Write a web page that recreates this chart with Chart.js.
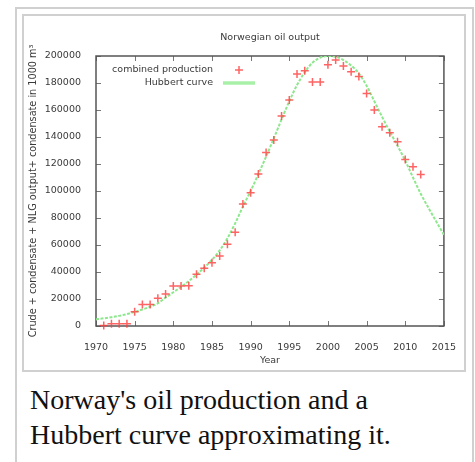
<!DOCTYPE html>
<html>
<head>
<meta charset="utf-8">
<script src="https://cdn.jsdelivr.net/npm/chart.js@4/dist/chart.umd.min.js"></script>
<style>
    body { margin: 0; background: #fff; }
    .thumb {
        position: absolute; left: 15px; top: 7px; width: 459px; height: 470px;
        border: 2px solid #d0d0d0; box-sizing: border-box;
    }
    .frame {
        position: absolute; left: 22px; top: 14px; width: 444px; height: 358px;
        border: 2px solid #d0d0d0; box-sizing: border-box;
    }
    #oilChart { position: absolute; left: 24px; top: 16px; }
    .caption {
        position: absolute; left: 30px; top: 382px; width: 430px;
        font-family: "Liberation Serif", serif; font-size: 28px; line-height: 35px; color: #111;
    }
</style>
</head>
<body>
<div class="thumb"></div>
<div class="frame"></div>
<canvas id="oilChart" width="440" height="354"></canvas>
<div class="caption">Norway's oil production and a Hubbert curve approximating it.</div>
<script>
const chartTitle = 'Norwegian oil output';
const xTitle = 'Year';
const yTitle = 'Crude + condensate + NLG output+ condensate in 1000 m³';

const prodYears = [1971, 1972, 1973, 1974, 1975, 1976, 1977, 1978, 1979, 1980,
    1981, 1982, 1983, 1984, 1985, 1986, 1987, 1988, 1989, 1990,
    1991, 1992, 1993, 1994, 1995, 1996, 1997, 1998, 1999, 2000,
    2001, 2002, 2003, 2004, 2005, 2006, 2007, 2008, 2009, 2010,
    2011, 2012];
const prodValues = [300, 1600, 1600, 1700, 10600, 16000, 16000, 20500, 23700, 29600,
    29600, 29900, 38300, 42700, 46900, 51800, 60500, 69400, 90400, 98700,
    112600, 128600, 137800, 155500, 167400, 186700, 189100, 180700, 180700, 193500,
    197000, 192600, 188400, 184900, 172200, 160000, 147600, 143200, 136500, 123400,
    118000, 112300];

const curveYears = [1970, 1971, 1972, 1973, 1974, 1975, 1976, 1977, 1978, 1979,
    1980, 1981, 1982, 1983, 1984, 1985, 1986, 1987, 1988, 1989,
    1990, 1991, 1992, 1993, 1994, 1995, 1996, 1997, 1998, 1999,
    2000, 2001, 2002, 2003, 2004, 2005, 2006, 2007, 2008, 2009,
    2010, 2011, 2012, 2013, 2014, 2015];
const curveValues = [5000, 5700, 6500, 7500, 8800, 10400, 12200, 14300, 16800, 21000,
    25000, 29000, 33300, 38000, 43200, 49000, 56000, 65000, 76000, 88500,
    100000, 112500, 125500, 139000, 153000, 166500, 178500, 188000, 195000, 198800,
    200000, 199500, 197000, 193000, 187000, 178000, 166500, 155000, 144000, 133500,
    122500, 110000, 98000, 87500, 77500, 67500];

const xTicks = [1970, 1975, 1980, 1985, 1990, 1995, 2000, 2005, 2010, 2015];
const yTicks = [0, 20000, 40000, 60000, 80000, 100000, 120000, 140000, 160000, 180000, 200000];

const textColor = '#3a3a3a';
const font = { family: 'DejaVu Sans', size: 9.5 };
const pointColor = 'rgba(255, 60, 60, 0.8)';
const curveColor = '#8de88d';

// gnuplot-like border with inward ticks on all four sides
const framePlugin = {
    id: 'frame',
    beforeDatasetsDraw(chart) {
        const { ctx, chartArea: a, scales } = chart;
        ctx.save();
        ctx.strokeStyle = '#777';
        ctx.lineWidth = 1;
        ctx.beginPath();
        xTicks.forEach(v => {
            const px = Math.round(scales.x.getPixelForValue(v)) + 0.5;
            ctx.moveTo(px, a.bottom); ctx.lineTo(px, a.bottom - 5);
            ctx.moveTo(px, a.top); ctx.lineTo(px, a.top + 5);
        });
        yTicks.forEach(v => {
            const py = Math.round(scales.y.getPixelForValue(v)) + 0.5;
            ctx.moveTo(a.left, py); ctx.lineTo(a.left + 5, py);
            ctx.moveTo(a.right, py); ctx.lineTo(a.right - 5, py);
        });
        ctx.stroke();
        ctx.strokeStyle = '#555';
        ctx.lineWidth = 1.5;
        ctx.strokeRect(a.left, a.top, a.right - a.left, a.bottom - a.top);
        ctx.restore();
    }
};

// key in the top-left corner, text first and sample after it
const keyPlugin = {
    id: 'key',
    afterDatasetsDraw(chart) {
        const { ctx, chartArea: a } = chart;
        const ds = chart.data.datasets;
        ctx.save();
        ctx.font = `${font.size}px ${font.family}`;
        ctx.fillStyle = textColor;
        ctx.textAlign = 'right';
        ctx.textBaseline = 'middle';
        const textX = a.left + 117;
        const rows = [a.top + 14, a.top + 27];

        ctx.fillText(ds[0].label, textX, rows[0]);
        ctx.strokeStyle = ds[0].borderColor;
        ctx.lineWidth = ds[0].borderWidth;
        const cx = a.left + 143;
        ctx.beginPath();
        ctx.moveTo(cx - 4, rows[0]); ctx.lineTo(cx + 4, rows[0]);
        ctx.moveTo(cx, rows[0] - 4); ctx.lineTo(cx, rows[0] + 4);
        ctx.stroke();

        ctx.fillText(ds[1].label, textX, rows[1]);
        ctx.strokeStyle = '#a8f0a8';
        ctx.lineWidth = 3.5;
        ctx.beginPath();
        ctx.moveTo(a.left + 127, rows[1]); ctx.lineTo(a.left + 159, rows[1]);
        ctx.stroke();
        ctx.restore();
    }
};

new Chart(document.getElementById('oilChart'), {
    type: 'scatter',
    data: {
        datasets: [{
            label: 'combined production',
            data: prodYears.map((yr, i) => ({ x: yr, y: prodValues[i] })),
            pointStyle: 'cross',
            pointRadius: 4,
            borderColor: pointColor,
            backgroundColor: pointColor,
            borderWidth: 1.5,
            clip: false,
            order: 0
        }, {
            label: 'Hubbert curve',
            data: curveYears.map((yr, i) => ({ x: yr, y: curveValues[i] })),
            showLine: true,
            pointRadius: 0,
            borderColor: curveColor,
            borderWidth: 2,
            borderDash: [3, 1.5],
            cubicInterpolationMode: 'monotone',
            order: 1
        }]
    },
    options: {
        responsive: false,
        animation: false,
        layout: { padding: { top: 0, right: 18, bottom: 0, left: 0 } },
        plugins: {
            legend: { display: false },
            title: { display: false },
            tooltip: { enabled: false }
        },
        scales: {
            x: {
                type: 'linear', position: 'bottom', min: 1970, max: 2015,
                afterBuildTicks: s => { s.ticks = xTicks.map(v => ({ value: v })); },
                ticks: { font, color: textColor, padding: 8, maxRotation: 0, callback: v => String(v) },
                grid: { display: false },
                border: { display: false },
                title: { display: true, text: xTitle, font, color: textColor, padding: { top: 0, bottom: 3.5 } },
                afterFit: s => { s.height = 44; }
            },
            top: {
                type: 'linear', axis: 'x', position: 'top', min: 1970, max: 2015,
                ticks: { display: false },
                grid: { display: false },
                border: { display: false },
                title: { display: true, text: chartTitle, font, color: textColor, padding: { top: 16, bottom: 0 } },
                afterFit: s => { s.height = 40; }
            },
            y: {
                type: 'linear', position: 'left', min: 0, max: 200000,
                afterBuildTicks: s => { s.ticks = yTicks.map(v => ({ value: v })); },
                ticks: { font, color: textColor, padding: 7, callback: v => String(v) },
                grid: { display: false },
                border: { display: false },
                title: { display: true, text: yTitle, font: { family: 'DejaVu Sans', size: 9.7 }, color: textColor, padding: { top: 4, bottom: 0 } },
                afterFit: s => { s.width = 72; }
            }
        }
    },
    plugins: [framePlugin, keyPlugin]
});
</script>
</body>
</html>
